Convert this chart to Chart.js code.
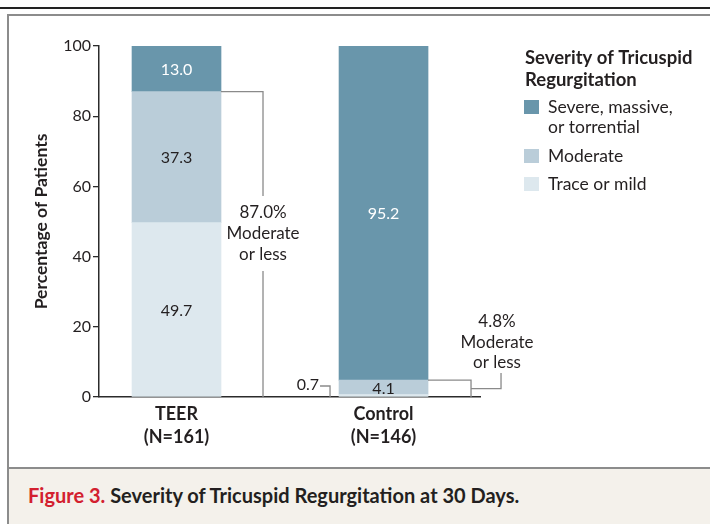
<!DOCTYPE html>
<html>
<head>
<meta charset="utf-8">
<script src="https://cdn.jsdelivr.net/npm/chart.js@4.4.1/dist/chart.umd.min.js"></script>
<style>
  html, body { margin: 0; padding: 0; background: #fff; }
  #wrap { position: relative; width: 710px; height: 524px; overflow: hidden; font-family: Lato, "Noto Sans", sans-serif; }
  #topRule { position: absolute; left: 0; top: 7px; width: 710px; height: 2px; background: #222; }
  #frame { position: absolute; left: 7px; top: 14px; width: 720px; height: 540px; border: 2px solid #8c8c8c; box-sizing: border-box; }
  #caption { position: absolute; left: 9px; top: 467px; width: 720px; height: 60px; background: #f4f1eb; border-top: 2px solid #8c8c8c; }
  #caption p { margin: 0; position: absolute; left: 19px; top: 14px; font-size: 20px; font-weight: bold; color: #231f20; white-space: nowrap; }
  #caption span { color: #d3202f; }
  #chart { position: absolute; left: 0; top: 0; }
</style>
</head>
<body>
<div id="wrap">
  <div id="topRule"></div>
  <div id="frame"></div>
  <div id="caption"><p><span>Figure 3.</span> Severity of Tricuspid Regurgitation at 30 Days.</p></div>
  <canvas id="chart" width="710" height="524"></canvas>
</div>
<script>
// Datos
const groups = ['TEER', 'Control'];
const groupNs = ['(N=161)', '(N=146)'];
const traceMild = [49.7, 0.7];
const moderate = [37.3, 4.1];
const severe = [13.0, 95.2];
const moderateOrLess = [87.0, 4.8];
const yTicks = [0, 20, 40, 60, 80, 100];

const legendTitle = ['Severity of Tricuspid', 'Regurgitation'];
const seriesNames = ['Trace or mild', 'Moderate', 'Severe, massive, or torrential'];
const legendLines = [['Trace or mild'], ['Moderate'], ['Severe, massive,', 'or torrential']];
const colors = ['#dde8ee', '#bacdd9', '#6996ab'];

const xPos = groups.map((g, i) => i + 1);
const TEXT = '#231f20';
const FONT = 'Lato, "Noto Sans", sans-serif';

function pts(values) {
    return values.map((v, i) => ({ x: xPos[i], y: v }));
}

// Etiquetas, corchetes y leyenda
const annotations = {
    id: 'annotations',
    afterDraw(chart) {
        const ctx = chart.ctx;
        const ys = chart.scales.y;
        const base = ys.getPixelForValue(0);
        ctx.save();
        ctx.textAlign = 'center';
        ctx.textBaseline = 'middle';
        ctx.font = '16px ' + FONT;

        // valores dentro de las barras
        chart.data.datasets.forEach((ds, di) => {
            const meta = chart.getDatasetMeta(di);
            meta.data.forEach((bar, i) => {
                const v = ds.data[i].y;
                if (v < 2) return;
                ctx.fillStyle = di === 2 ? '#ffffff' : TEXT;
                ctx.fillText(v.toFixed(1), bar.x, (bar.y + bar.base) / 2 + 1);
            });
        });

        ctx.strokeStyle = '#8a8a8a';
        ctx.lineWidth = 1.3;

        // TEER: 87.0% moderada o menos
        const m0 = chart.getDatasetMeta(1).data[0];
        const r0 = m0.x + m0.width / 2;
        const yTop0 = ys.getPixelForValue(moderateOrLess[0]);
        const bx0 = r0 + 42;
        ctx.beginPath();
        ctx.moveTo(r0, yTop0); ctx.lineTo(bx0, yTop0); ctx.lineTo(bx0, 196);
        ctx.moveTo(bx0, 271); ctx.lineTo(bx0, base);
        ctx.stroke();
        ctx.fillStyle = TEXT;
        ctx.font = '17px ' + FONT;
        ctx.fillText(moderateOrLess[0].toFixed(1) + '%', bx0, 213);
        ctx.fillText('Moderate', bx0, 234);
        ctx.fillText('or less', bx0, 255);

        // Control: 0.7 traza o leve
        const t1 = chart.getDatasetMeta(0).data[1];
        const l1 = t1.x - t1.width / 2;
        ctx.beginPath();
        ctx.moveTo(l1 - 19, 386); ctx.lineTo(l1 - 9, 386); ctx.lineTo(l1 - 9, base);
        ctx.stroke();
        ctx.font = '16px ' + FONT;
        ctx.textAlign = 'right';
        ctx.fillText(traceMild[1].toFixed(1), l1 - 20, 385);

        // Control: 4.8% moderada o menos
        const r1 = t1.x + t1.width / 2;
        const yTop1 = ys.getPixelForValue(moderateOrLess[1]);
        const bx1 = r1 + 43;
        const midY = (yTop1 + base) / 2;
        ctx.beginPath();
        ctx.moveTo(r1, yTop1); ctx.lineTo(bx1, yTop1); ctx.lineTo(bx1, base);
        ctx.moveTo(bx1, midY); ctx.lineTo(bx1 + 30, midY); ctx.lineTo(bx1 + 30, 373);
        ctx.stroke();
        ctx.textAlign = 'center';
        ctx.font = '17px ' + FONT;
        ctx.fillText(moderateOrLess[1].toFixed(1) + '%', bx1 + 26, 322);
        ctx.fillText('Moderate', bx1 + 26, 343);
        ctx.fillText('or less', bx1 + 26, 363);

        // leyenda
        ctx.textAlign = 'left';
        ctx.font = 'bold 18.5px ' + FONT;
        ctx.fillText(legendTitle[0], 525, 58);
        ctx.fillText(legendTitle[1], 525, 80);
        const rows = [[2, 107], [1, 156], [0, 184]];
        ctx.font = '17.5px ' + FONT;
        rows.forEach(([k, y]) => {
            ctx.fillStyle = colors[k];
            ctx.fillRect(524, y - 7, 15, 14);
            ctx.fillStyle = TEXT;
            legendLines[k].forEach((line, j) => ctx.fillText(line, 548, y + j * 20));
        });
        ctx.restore();
    }
};

const chart = new Chart(document.getElementById('chart'), {
    type: 'bar',
    data: {
        datasets: [
            { label: seriesNames[0], data: pts(traceMild), backgroundColor: colors[0] },
            { label: seriesNames[1], data: pts(moderate), backgroundColor: colors[1] },
            { label: seriesNames[2], data: pts(severe), backgroundColor: colors[2] }
        ]
    },
    options: {
        responsive: false,
        animation: false,
        layout: { padding: { left: 20, top: 46, right: 230, bottom: 77 } },
        datasets: { bar: { barThickness: 89, borderWidth: 0 } },
        plugins: { legend: { display: false }, tooltip: { enabled: false } },
        scales: {
            x: {
                type: 'linear',
                stacked: true,
                offset: false,
                min: 0.6256,
                max: 2.466,
                grid: { display: false, drawTicks: false, offset: false },
                border: { display: true, color: '#2b2b2b', width: 1.5 },
                afterBuildTicks: (s) => { s.ticks = xPos.map(v => ({ value: v })); },
                afterFit: (s) => { s.height = 50; },
                ticks: {
                    padding: 6,
                    color: TEXT,
                    font: { family: FONT, size: 18, weight: 'bold', lineHeight: 1.25 },
                    callback: (v) => {
                        const i = xPos.indexOf(v);
                        return i >= 0 ? [groups[i], groupNs[i]] : '';
                    }
                }
            },
            y: {
                stacked: true,
                min: 0,
                max: 100,
                afterBuildTicks: (s) => { s.ticks = yTicks.map(v => ({ value: v })); },
                afterFit: (s) => { s.width = 79; },
                grid: { drawOnChartArea: false, drawTicks: true, tickLength: 6, color: '#2b2b2b', lineWidth: 1.3 },
                border: { display: true, color: '#2b2b2b', width: 1.5 },
                ticks: { padding: 2, color: TEXT, font: { family: FONT, size: 16 } },
                title: {
                    display: true,
                    text: 'Percentage of Patients',
                    color: TEXT,
                    font: { family: FONT, size: 17.5, weight: 'bold' },
                    padding: { top: 11, bottom: 0 }
                }
            }
        }
    },
    plugins: [annotations]
});
</script>
</body>
</html>
